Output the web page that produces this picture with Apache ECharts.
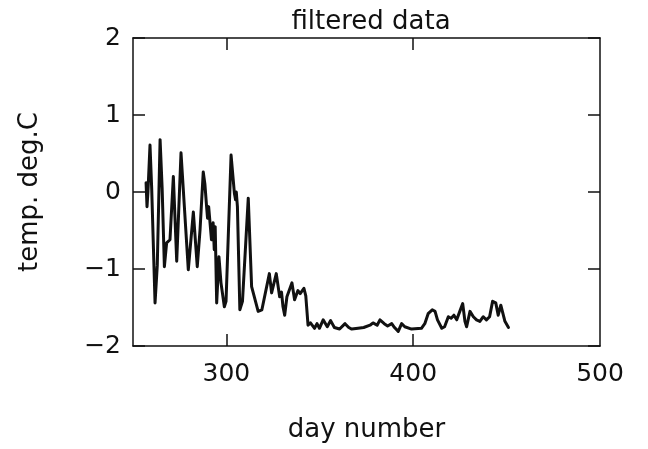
<!DOCTYPE html>
<html>
<head>
<meta charset="utf-8">
<script src="https://cdn.jsdelivr.net/npm/echarts@6/dist/echarts.min.js"></script>
<style>
  html, body { margin: 0; padding: 0; background: #fff; }
  #chart { width: 648px; height: 449px; }
</style>
</head>
<body>
<div id="chart"></div>
<script>
var dayNumbers = [257.0, 257.5, 258.0, 259.1, 260.0, 261.8, 263.0, 264.5, 265.6, 266.8,
    268.0, 269.8, 271.6, 273.4, 275.7, 279.6, 282.3, 284.4, 285.9, 286.6,
    287.6, 288.5, 289.4, 289.9, 290.5, 292.0, 292.9, 293.5, 294.0, 294.8,
    296.0, 297.1, 298.9, 299.8, 302.5, 304.3, 304.9, 305.3, 305.9, 307.2,
    308.6, 311.7, 313.5, 314.5, 317.0, 319.0, 323.0, 324.2, 325.0, 326.7,
    328.5, 329.5, 330.3, 331.2, 332.4, 335.1, 336.5, 338.3, 339.5, 341.5,
    342.5, 343.7, 345.0, 347.2, 348.5, 349.8, 351.8, 354.0, 355.8, 357.8,
    360.6, 363.5, 365.5, 367.1, 370.5, 373.5, 376.9, 378.5, 379.5, 380.7,
    382.2, 384.5, 386.3, 388.5, 390.0, 392.0, 393.8, 395.5, 399.1, 404.4,
    406.2, 408.0, 410.2, 411.7, 413.0, 415.3, 416.8, 418.8, 420.3, 421.8,
    423.3, 424.8, 426.5, 427.7, 428.6, 430.4, 432.2, 433.9, 435.7, 437.5,
    439.2, 440.9, 442.5, 444.2, 445.5, 446.9, 449.1, 451.0];
var temps = [0.12, -0.19, 0.00, 0.61, 0.05, -1.44, -0.95, 0.68, 0.05, -0.97,
    -0.66, -0.62, 0.20, -0.90, 0.51, -1.01, -0.26, -0.97, -0.49, -0.47,
    0.26, 0.10, -0.19, -0.34, -0.19, -0.62, -0.40, -0.75, -0.45, -1.44,
    -0.84, -1.18, -1.49, -1.42, 0.48, -0.02, -0.10, 0.00, -0.19, -1.53,
    -1.42, -0.08, -1.23, -1.22, -1.55, -1.53, -1.06, -1.31, -1.31, -1.06,
    -1.36, -1.30, -1.49, -1.60, -1.36, -1.18, -1.40, -1.28, -1.32, -1.25,
    -1.35, -1.73, -1.70, -1.77, -1.71, -1.77, -1.66, -1.75, -1.67, -1.76,
    -1.78, -1.71, -1.76, -1.78, -1.77, -1.76, -1.73, -1.70, -1.68, -1.73,
    -1.66, -1.71, -1.74, -1.71, -1.76, -1.81, -1.71, -1.75, -1.78, -1.77,
    -1.71, -1.58, -1.53, -1.55, -1.66, -1.77, -1.75, -1.62, -1.64, -1.60,
    -1.66, -1.56, -1.45, -1.68, -1.75, -1.55, -1.62, -1.66, -1.68, -1.62,
    -1.66, -1.62, -1.42, -1.44, -1.60, -1.47, -1.68, -1.76];
var xTicks = [300, 400];
var xLabels = [300, 400, 500];

var fontFam = 'DejaVu Sans';
var ink = '#111';

var points = dayNumbers.map(function (d, i) { return [d, temps[i]]; });

var myChart = echarts.init(document.getElementById('chart'));

// x轴公共配置
var xBase = function (pos, showLabel) {
    return {
        type: 'value',
        position: pos,
        min: 250,
        max: 500,
        axisLine: { show: true, onZero: false, lineStyle: { color: ink, width: 1.5 } },
        axisTick: { show: true, inside: true, length: 12, customValues: xTicks, lineStyle: { color: ink, width: 1.5 } },
        axisLabel: {
            show: showLabel,
            customValues: xLabels,
            margin: 16,
            color: ink,
            fontFamily: fontFam,
            fontSize: 25
        },
        splitLine: { show: false }
    };
};

// y轴公共配置
var yBase = function (pos, showLabel) {
    return {
        type: 'value',
        position: pos,
        min: -2,
        max: 2,
        interval: 1,
        axisLine: { show: true, onZero: false, lineStyle: { color: ink, width: 1.5 } },
        axisTick: { show: true, inside: true, length: 12, lineStyle: { color: ink, width: 1.5 } },
        axisLabel: {
            show: showLabel,
            margin: 12,
            color: ink,
            fontFamily: fontFam,
            fontSize: 25,
            formatter: function (v) { return v < 0 ? '\u2212' + Math.abs(v) : String(v); }
        },
        splitLine: { show: false }
    };
};

var xBottom = xBase('bottom', true);
xBottom.name = 'day number';
xBottom.nameLocation = 'middle';
xBottom.nameGap = 71;
xBottom.nameTextStyle = { color: ink, fontFamily: fontFam, fontSize: 26 };

var yLeft = yBase('left', true);
yLeft.name = 'temp. deg.C';
yLeft.nameLocation = 'middle';
yLeft.nameGap = 90;
yLeft.nameTextStyle = { color: ink, fontFamily: fontFam, fontSize: 26 };

var option = {
    backgroundColor: '#fff',
    animation: false,
    title: {
        text: 'filtered data',
        left: 366,
        textAlign: 'center',
        top: 4,
        textStyle: { color: ink, fontFamily: fontFam, fontSize: 26, fontWeight: 'normal' }
    },
    grid: { left: 133, right: 48, top: 38, bottom: 103, containLabel: false },
    xAxis: [xBottom, xBase('top', false)],
    yAxis: [yLeft, yBase('right', false)],
    series: [{
        type: 'line',
        data: points,
        xAxisIndex: 0,
        yAxisIndex: 0,
        showSymbol: false,
        smooth: false,
        lineStyle: { color: ink, width: 3, join: 'round', cap: 'round' }
    }]
};
myChart.setOption(option);
</script>
</body>
</html>
